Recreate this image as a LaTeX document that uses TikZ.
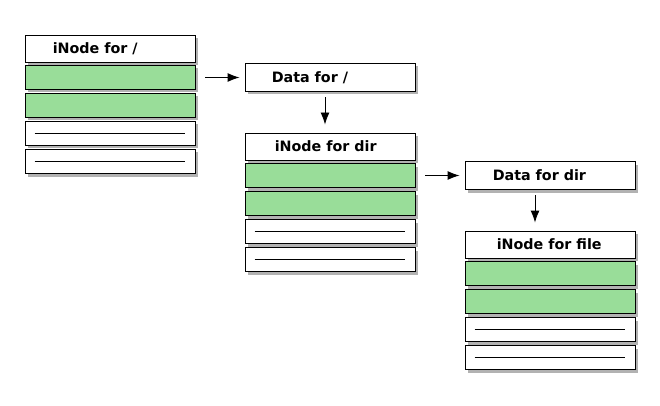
\documentclass[tikz,border=0pt]{standalone}
\usepackage{fontspec}
\setmainfont{DejaVu Sans}
\usetikzlibrary{shadows,arrows.meta}
\definecolor{slotgreen}{RGB}{153,221,153}
\tikzset{
  cell/.style={draw,line width=0.9pt,fill=white,minimum width=170pt,minimum height=24pt,inner sep=0pt,
    drop shadow={shadow xshift=3pt,shadow yshift=-3pt,fill=black!30,opacity=1}},
  head/.style={cell,minimum height=27pt},
  used/.style={cell,fill=slotgreen},
  title/.style={anchor=west,inner sep=0pt,font=\bfseries\fontsize{14.3}{16}\selectfont},
  arr/.style={-{Latex[length=12pt,width=9pt]},line width=0.9pt},
  rule/.style={line width=0.9pt}
}
\begin{document}
\begin{tikzpicture}[x=1pt,y=-1pt]
\useasboundingbox (0,0) rectangle (660,406);
% inode for /
\node[head] (ia) at (110,48.5) {};
\node[title] (ta) at ([xshift=28pt]ia.west) {iNode for /};
\node[used] (ia1) at (110,77.5) {};
\node[used] (ia2) at (110,105.5) {};
\node[cell] (ia3) at (110,133.5) {};
\node[cell] (ia4) at (110,161.5) {};
\draw[rule] ([xshift=10pt]ia3.west) -- ([xshift=-10pt]ia3.east);
\draw[rule] ([xshift=10pt]ia4.west) -- ([xshift=-10pt]ia4.east);
% data for /
\node[head,minimum height=28pt] (da) at (330,77.5) {};
\node[title] (tda) at ([xshift=27pt]da.west) {Data for /};
\draw[arr,shorten <=10pt,shorten >=5pt] (ia1) -- (da);
% inode for dir
\node[head] (ib) at (330,146.5) {};
\node[title] (tb) at ([xshift=30pt]ib.west) {iNode for dir};
\node[used] (ib1) at (330,175.5) {};
\node[used] (ib2) at (330,203.5) {};
\node[cell] (ib3) at (330,231.5) {};
\node[cell] (ib4) at (330,259.5) {};
\draw[rule] ([xshift=10pt]ib3.west) -- ([xshift=-10pt]ib3.east);
\draw[rule] ([xshift=10pt]ib4.west) -- ([xshift=-10pt]ib4.east);
\draw[arr,shorten <=5.5pt,shorten >=8pt] ([xshift=-5pt]da.south) -- ([xshift=-5pt]ib.north);
% data for dir
\node[head,minimum height=28pt] (db) at (550,175.5) {};
\node[title] (tdb) at ([xshift=28pt]db.west) {Data for dir};
\draw[arr,shorten <=10pt,shorten >=5pt] (ib1) -- (db);
% inode for file
\node[head] (ic) at (550,244.5) {};
\node[title] (tc) at ([xshift=32pt]ic.west) {iNode for file};
\node[used] (ic1) at (550,273.5) {};
\node[used] (ic2) at (550,301.5) {};
\node[cell] (ic3) at (550,329.5) {};
\node[cell] (ic4) at (550,357.5) {};
\draw[rule] ([xshift=10pt]ic3.west) -- ([xshift=-10pt]ic3.east);
\draw[rule] ([xshift=10pt]ic4.west) -- ([xshift=-10pt]ic4.east);
\draw[arr,shorten <=5.5pt,shorten >=8pt] ([xshift=-15pt]db.south) -- ([xshift=-15pt]ic.north);
\end{tikzpicture}
\end{document}
